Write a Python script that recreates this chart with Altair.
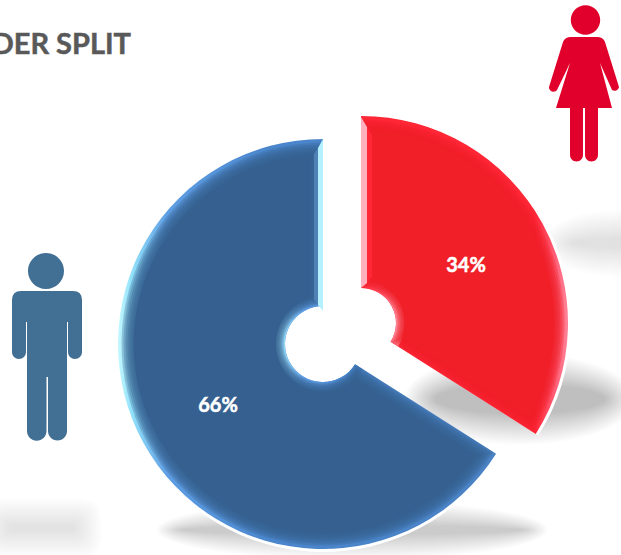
import math

import altair as alt
import pandas as pd

# Gender split, in percent
genders = ["Female", "Male"]
shares = [34, 66]
labels = ["34%", "66%"]

rows = []
running = 0
for gender, share, label in zip(genders, shares, labels):
    rows.append({"gender": gender, "start": running, "end": running + share, "label": label})
    running += share
table = pd.DataFrame(rows)

theta_scale = alt.Scale(domain=[0, 100], range=[0, 2 * math.pi])
single = pd.DataFrame({"k": [0]})

MAN = (
    "M -19 -75 A 18 18 0 1 1 17 -75 A 18 18 0 1 1 -19 -75 Z "
    "M -26 -55 L 26 -55 Q 35 -55 35 -46 L 35 6 A 7 7 0 0 1 21 6 L 21 -24 L 20 -24 L 20 85 "
    "A 9.5 9.5 0 0 1 1 85 L 1 31 L -0.5 31 L -0.5 85 A 9.75 9.75 0 0 1 -20 85 L -20 -24 L -21 -24 "
    "L -21 6 A 7 7 0 0 1 -35 6 L -35 -46 Q -35 -55 -26 -55 Z"
)
WOMAN = (
    "M -14.2 -60 A 14.7 14.7 0 1 1 15.2 -60 A 14.7 14.7 0 1 1 -14.2 -60 Z "
    "M -14 -43 L 12 -43 Q 18 -43 20 -38 L 34 7 A 4.5 4.5 0 0 1 27 10 L 15 -17 L 27 28 L 13 28 L 13 75 "
    "A 6.5 6.5 0 0 1 0 75 L 0 28 L -2 28 L -2 75 A 6.5 6.5 0 0 1 -15 75 L -15 28 L -29 28 L -15 -17 "
    "L -28 10 A 4.5 4.5 0 0 1 -36 7 L -22 -38 Q -20 -43 -14 -43 Z"
)

# Bevels along the straight edges of the slices, drawn from their outer corner
BLUE_EDGE = "M 0 0 L 0 172 L -5 166 L -5 9 Z"
BLUE_EDGE_SOFT = "M -5 9 L -5 166 L -9 160 L -9 15 Z"
RED_EDGE = "M 0 0 L 0 171 L 6 166 L 6 10 Z"
RED_EDGE_BRIGHT = "M 6 10 L 6 166 L 11 160 L 11 18 Z"


def shape_mark(path, x, y, fill, opacity=1.0):
    # size 4 makes one path unit equal one pixel
    return (
        alt.Chart(single)
        .mark_point(shape=path, size=4, filled=True, fill=fill, opacity=opacity, strokeWidth=0)
        .encode(x=alt.value(x), y=alt.value(y))
    )


def soft_shadow(x, y, rx, ry, alpha, blur=22, squared=False):
    layers = []
    for i in range(blur):
        a, b = rx - i, ry - i
        if squared:
            r = max(b * 0.6, 1)
            path = (
                f"M {-a + r} {-b} L {a - r} {-b} Q {a} {-b} {a} {-b + r} L {a} {b - r} Q {a} {b} {a - r} {b} "
                f"L {-a + r} {b} Q {-a} {b} {-a} {b - r} L {-a} {-b + r} Q {-a} {-b} {-a + r} {-b} Z"
            )
        else:
            path = f"M {-a} 0 A {a} {b} 0 1 0 {a} 0 A {a} {b} 0 1 0 {-a} 0 Z"
        layers.append(shape_mark(path, x, y, "#000000", alpha))
    return layers


def ring(gender, cx, cy, outer, inner, fill, inset=0.0, opacity=1.0):
    rp = math.hypot(outer, inner)
    pad = 2 * math.asin(min(inset / rp, 1)) if inset else 0
    return (
        alt.Chart(table)
        .transform_filter(alt.datum.gender == gender)
        .mark_arc(radius=outer, radius2=inner, padAngle=pad, fill=fill, opacity=opacity)
        .encode(
            x=alt.value(cx),
            y=alt.value(cy),
            theta=alt.Theta("start:Q", scale=theta_scale),
            theta2=alt.Theta2("end:Q"),
        )
    )


def gradient(stops, x2=1, y2=0):
    return alt.LinearGradient(
        gradient="linear",
        x1=0,
        y1=0,
        x2=x2,
        y2=y2,
        stops=[alt.GradientStop(offset=o, color=c) for o, c in stops],
    )


def bevelled_slice(gender, cx, cy, outer, inner, rim, inner_glow, face, levels=7, step=2.0):
    layers = [
        ring(gender, cx, cy, outer + 3, inner - 1, "#ffffff"),
        ring(gender, cx, cy, outer, inner, rim),
        ring(gender, cx, cy, inner + 9, inner, inner_glow),
    ]
    for i in range(1, levels + 1):
        layers.append(
            ring(
                gender,
                cx,
                cy,
                outer - 1.5 - i * step,
                inner + i * 1.4,
                face,
                inset=(i - 1) * step,
                opacity=1.0 if i == levels else 0.3,
            )
        )
    return layers


def caption(text, x, y, size, colour, align="center"):
    return (
        alt.Chart(pd.DataFrame({"t": [text]}))
        .mark_text(
            font="Lato",
            fontWeight="bold",
            fontSize=size,
            color=colour,
            stroke=colour,
            strokeWidth=0.5,
            align=align,
            baseline="alphabetic",
        )
        .encode(x=alt.value(x), y=alt.value(y), text="t:N")
    )


# Cast shadows beneath the slices and the man
shadows = (
    soft_shadow(520, 399, 116, 46, 0.0072, blur=32)
    + soft_shadow(352, 530, 196, 30, 0.0082, blur=26)
    + soft_shadow(618, 243, 76, 34, 0.0042, blur=30)
    + soft_shadow(42, 528, 60, 30, 0.0048, blur=28, squared=True)
)

blue_rim = gradient(
    [(0, "#c4f8ff"), (0.035, "#93e2fa"), (0.13, "#5f9ee4"), (0.4, "#4a86cc"), (1, "#4a82c4")]
)
blue_glow = gradient([(0, "#a8eefc"), (0.3, "#5f9ee4"), (1, "#3f78bb")])
red_rim = gradient([(0, "#ff2636"), (0.84, "#ff2636"), (0.93, "#ff5a72"), (1, "#ff8398")])
red_glow = gradient([(0, "#ff2636"), (0.5, "#ff5064"), (1, "#ffa5b0")])

blue = bevelled_slice("Male", 323, 344, 205, 38, blue_rim, blue_glow, "#35608f")
red = bevelled_slice("Female", 361, 323, 207, 35, red_rim, red_glow, "#f01f28", levels=6, step=2.0)

bevel_strips = [
    shape_mark(BLUE_EDGE_SOFT, 323, 139, "#4f81b5"),
    shape_mark(BLUE_EDGE, 323, 139, "#b4f0ff"),
    shape_mark(RED_EDGE_BRIGHT, 361, 117, "#ff2636"),
    shape_mark(RED_EDGE, 361, 117, "#ffb0be"),
]

chart = (
    alt.layer(
        *shadows,
        *blue,
        *red,
        *bevel_strips,
        shape_mark(MAN, 47, 346, "#426f94"),
        shape_mark(WOMAN, 585, 80, "#e1002b"),
        caption("GENDER SPLIT", 131, 54, 29, "#595959", align="right"),
        caption(labels[0], 466, 272, 20, "#ffffff"),
        caption(labels[1], 218, 412, 20, "#ffffff"),
    )
    .properties(width=621, height=555, padding=0, autosize="none", background="#ffffff")
    .configure_view(stroke=None)
)

chart.save("out.html", embed_options={"renderer": "svg", "actions": False})
